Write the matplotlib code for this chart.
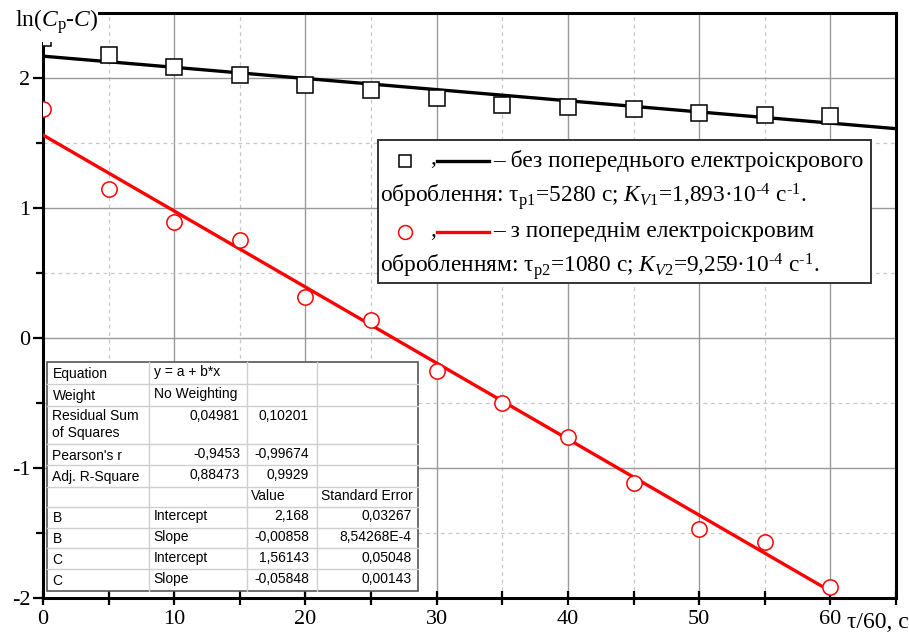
import matplotlib.pyplot as plt
import numpy as np
from matplotlib.lines import Line2D
from matplotlib.patches import Rectangle

plt.rcParams['font.family'] = ['Liberation Serif', 'DejaVu Serif']
plt.rcParams['mathtext.fontset'] = 'custom'
plt.rcParams['mathtext.rm'] = 'Liberation Serif'
plt.rcParams['mathtext.it'] = 'Liberation Serif:italic'
plt.rcParams['axes.unicode_minus'] = False

# data
tau = [0, 5, 10, 15, 20, 25, 30, 35, 40, 45, 50, 55, 60]
b_vals = [2.31, 2.177, 2.085, 2.02, 1.946, 1.907, 1.846, 1.79, 1.78, 1.76, 1.73, 1.715, 1.71]
c_vals = [1.76, 1.144, 0.89, 0.751, 0.319, 0.142, -0.251, -0.498, -0.76, -1.115, -1.47, -1.57, -1.917]

# linear fit results (from the table)
intercepts = [2.168, 1.56143]
slopes = [-0.00858, -0.05848]
fit_ends = [65, 60]

table_rows = [
    ["Equation", "y = a + b*x", "", ""],
    ["Weight", "No Weighting", "", ""],
    ["Residual Sum\nof Squares", "0,04981", "0,10201", ""],
    ["Pearson's r", "-0,9453", "-0,99674", ""],
    ["Adj. R-Square", "0,88473", "0,9929", ""],
    ["", "", "Value", "Standard Error"],
    ["B", "Intercept", "2,168", "0,03267"],
    ["B", "Slope", "-0,00858", "8,54268E-4"],
    ["C", "Intercept", "1,56143", "0,05048"],
    ["C", "Slope", "-0,05848", "0,00143"],
]

W, H = 909, 639
fig = plt.figure(figsize=(W / 100, H / 100), dpi=100)
ax = fig.add_axes([43 / W, 1 - 598 / H, (896 - 43) / W, (598 - 13) / H])


def px(x, y):
    return x / W, 1 - y / H


# grid
ax.set_xlim(0, 65)
ax.set_ylim(-2, 2.5)
ax.set_xticks(np.arange(0, 61, 10))
ax.set_xticks(np.arange(5, 66, 5), minor=True)
ax.set_yticks([-2, -1, 0, 1, 2])
ax.set_yticks(np.arange(-1.5, 2.6, 1.0), minor=True)
ax.grid(which='major', color='#9a9a9a', lw=1.0)
ax.grid(which='minor', color='#c8c8c8', lw=0.9, ls=(0, (3, 3)))
ax.set_axisbelow(True)
for s in ax.spines.values():
    s.set_linewidth(2.2)
ax.tick_params(axis='x', which='both', direction='inout', length=10, width=1.6,
               labelsize=16, pad=4)
ax.tick_params(axis='y', which='major', direction='out', length=7, width=1.6,
               labelsize=16, pad=2)
ax.tick_params(axis='y', which='minor', direction='out', length=5, width=1.6)

# fits
for a, b, xe, col in zip(intercepts, slopes, fit_ends, ['black', 'red']):
    xx = np.array([0, xe])
    ax.plot(xx, a + b * xx, color=col, lw=2.4, zorder=3)

ax.plot(tau, b_vals, ls='none', marker='s', ms=11, mfc='white', mec='black', mew=1.1, zorder=4)
ax.plot(tau, c_vals, ls='none', marker='o', ms=11, mfc='white', mec='red', mew=1.1, zorder=4)

# y label over corner
fig.add_artist(Rectangle(px(0, 42), 98 / W, 42 / H, transform=fig.transFigure,
                         facecolor='white', edgecolor='none', zorder=10))
fig.text(*px(15, 22), r'ln($C_{\mathrm{p}}$-$C$)', fontsize=17, va='center', ha='left', zorder=11)
fig.text(*px(847, 622), 'τ/60, с', fontsize=17, va='center', ha='left')

# legend box
fig.add_artist(Rectangle(px(378, 283), (871 - 378) / W, (283 - 140) / H,
                         transform=fig.transFigure, facecolor='white',
                         edgecolor='#333333', lw=1.4, zorder=5))
fs = 16.8
for yrow, mk, col, txt in [(161, 's', 'black', '– без попереднього електроіскрового'),
                           (232, 'o', 'red', '– з попереднім електроіскровим')]:
    fig.add_artist(Line2D([405 / W], [1 - yrow / H], transform=fig.transFigure, marker=mk,
                          ms=9 if mk == 's' else 10, mfc='white', mec=col, mew=1.1, zorder=6))
    fig.text(*px(430, yrow - 2), ',', fontsize=fs, va='center', ha='left', zorder=6)
    fig.add_artist(Line2D([437 / W, 489 / W], [1 - yrow / H] * 2, transform=fig.transFigure,
                          color=col, lw=2.4, zorder=6))
    fig.text(*px(493, yrow), txt, fontsize=fs, va='center', ha='left', zorder=6)
fig.text(*px(380, 197), 'оброблення: τ$_{\\mathrm{p1}}$=5280 с; $K_{V\\mathrm{1}}$=1,893·10$^{\\text{-4}}$ с$^{\\text{-1}}$.',
         fontsize=fs, va='center', ha='left', zorder=6)
fig.text(*px(380, 266), 'обробленням: τ$_{\\mathrm{p2}}$=1080 с; $K_{V\\mathrm{2}}$=9,259·10$^{\\text{-4}}$ с$^{\\text{-1}}$.',
         fontsize=fs, va='center', ha='left', zorder=6)

# fit table
xs = [47.3, 149.3, 246.7, 316.7, 418.3]
ys = [362.3, 384.3, 405.7, 444.3, 465, 486.7, 506.7, 527.7, 548.3, 569, 591]
fig.add_artist(Rectangle(px(xs[0], ys[-1]), (xs[-1] - xs[0]) / W, (ys[-1] - ys[0]) / H,
                         transform=fig.transFigure, facecolor='white',
                         edgecolor='#555555', lw=1.2, zorder=5))
for y in ys[1:-1]:
    fig.add_artist(Line2D([xs[0] / W, xs[-1] / W], [1 - y / H] * 2, transform=fig.transFigure,
                          color='#cfcfcf', lw=1.0, zorder=6))
for x in xs[1:-1]:
    fig.add_artist(Line2D([x / W] * 2, [1 - ys[0] / H, 1 - ys[-1] / H], transform=fig.transFigure,
                          color='#cfcfcf', lw=1.0, zorder=6))
tfont = dict(family='Liberation Sans', fontsize=10, zorder=7)
right_x = [None, 240, 309, 411.5]
for i, row in enumerate(table_rows):
    ytop = ys[i]
    yc = (ys[i] + ys[i + 1]) / 2 if i != 2 else ytop + 11
    for j, cell in enumerate(row):
        if not cell:
            continue
        if j == 0:
            if '\n' in cell:
                fig.text(*px(52.5, ytop + 3), cell, ha='left', va='top', linespacing=1.3, **tfont)
            else:
                fig.text(*px(52.5, yc + 1), cell, ha='left', va='center', **tfont)
        elif cell[0].isdigit() or cell[0] == '-':
            fig.text(*px(right_x[j], yc - 1), cell, ha='right', va='center', **tfont)
        else:
            fig.text(*px(xs[j] + 4.5, yc - 1), cell, ha='left', va='center', **tfont)

fig.savefig('out.png', dpi=100)
